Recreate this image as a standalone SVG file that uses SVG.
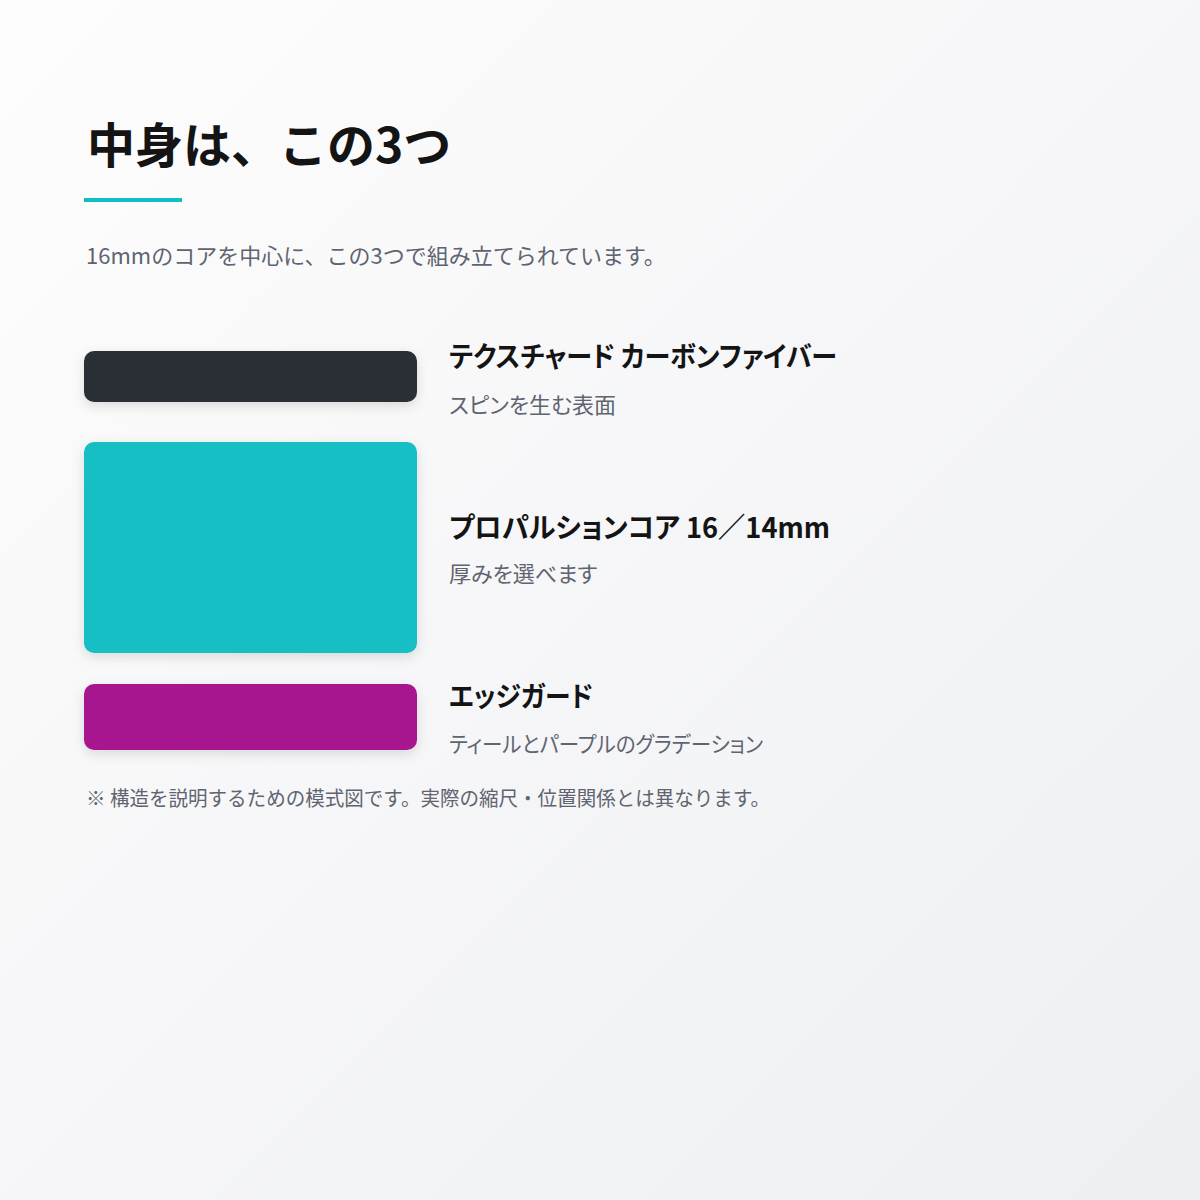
<svg xmlns="http://www.w3.org/2000/svg" width="1200" height="1200" viewBox="0 0 1200 1200">
<defs>
<linearGradient id="bg" x1="0" y1="0" x2="1" y2="1">
<stop offset="0" stop-color="#fdfdfd"/>
<stop offset="1" stop-color="#eeeff2"/>
</linearGradient>
<filter id="sh" x="-20%" y="-30%" width="140%" height="170%">
<feDropShadow dx="0" dy="4" stdDeviation="6" flood-color="#000" flood-opacity="0.12"/>
</filter>
<style>
text{font-family:"Noto Sans CJK JP","Noto Sans",sans-serif}
.title{font-size:48px;font-weight:700;fill:#141414}
.lead{font-size:22px;fill:#5f6470}
.h{font-size:28px;font-weight:700;fill:#141414;font-feature-settings:"palt"}
.s{font-size:22px;fill:#5f6470;font-feature-settings:"palt"}
.note{font-size:20px;fill:#5f6470}
</style>
</defs>
<rect width="1200" height="1200" fill="url(#bg)"/>
<g id="header">
<text class="title" x="87" y="163">中身は、この3つ</text>
<rect x="84" y="198" width="98" height="4" fill="#12bec4"/>
<text class="lead" x="86" y="264">16mmのコアを中心に、この3つで組み立てられています。</text>
</g>
<g id="carbon">
<rect x="84" y="351" width="333" height="51" rx="10" fill="#2b2e35" filter="url(#sh)"/>
<text class="h" x="449" y="367" textLength="388" lengthAdjust="spacingAndGlyphs">テクスチャード カーボンファイバー</text>
<text class="s" x="449" y="413">スピンを生む表面</text>
</g>
<g id="core">
<rect x="84" y="442" width="333" height="211" rx="10" fill="#12bfc4" filter="url(#sh)"/>
<text class="h" x="449" y="538" textLength="381" lengthAdjust="spacingAndGlyphs">プロパルションコア 16／14mm</text>
<text class="s" x="449" y="582">厚みを選べます</text>
</g>
<g id="edge">
<rect x="84" y="684" width="333" height="66" rx="10" fill="#a8198f" filter="url(#sh)"/>
<text class="h" x="449" y="707" textLength="144" lengthAdjust="spacingAndGlyphs">エッジガード</text>
<text class="s" x="449" y="752" textLength="314" lengthAdjust="spacingAndGlyphs">ティールとパープルのグラデーション</text>
</g>
<g id="connectors"/>
<text class="note" x="86" y="806" textLength="684" lengthAdjust="spacingAndGlyphs">※ 構造を説明するための模式図です。実際の縮尺・位置関係とは異なります。</text>
</svg>
